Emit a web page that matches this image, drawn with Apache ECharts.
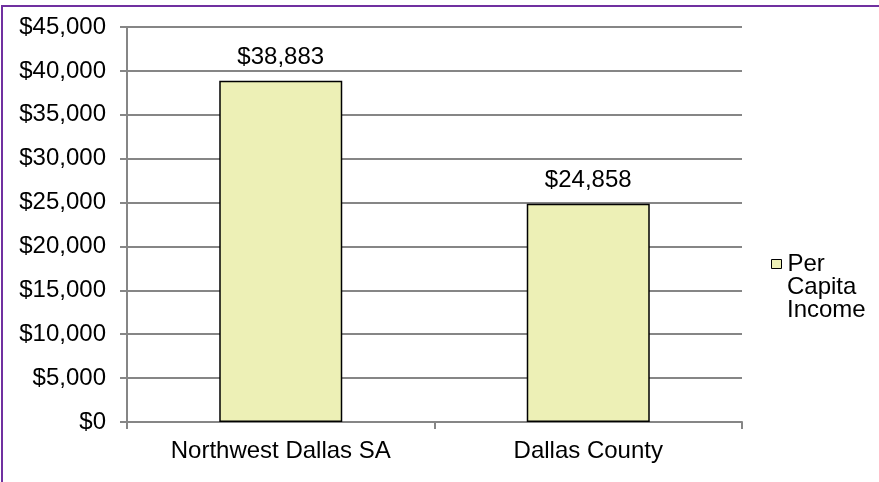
<!DOCTYPE html>
<html>
<head>
<meta charset="utf-8">
<script src="https://cdn.jsdelivr.net/npm/echarts@6/dist/echarts.min.js"></script>
<style>
html,body{margin:0;padding:0;background:#fff;}
#frame{position:absolute;left:1px;top:5px;width:900px;height:500px;border-left:2px solid #7030A0;border-top:2px solid #7030A0;box-sizing:border-box;}
#chart{position:absolute;left:0;top:0;width:879px;height:482px;}
</style>
</head>
<body>
<div id="frame"></div>
<div id="chart"></div>
<script>
const categories = ['Northwest Dallas SA', 'Dallas County'];
const seriesName = 'Per Capita Income';
const legendLines = ['Per', 'Capita', 'Income'];
const values = [38883, 24858];
const yTicks = [0, 5000, 10000, 15000, 20000, 25000, 30000, 35000, 40000, 45000];

const fmt = v => '$' + v.toLocaleString('en-US');
const FONT = 'Liberation Sans, Arial, sans-serif';
const GRAY = '#868686';
const FS = 24;

const chart = echarts.init(document.getElementById('chart'));
chart.setOption({
  animation: false,
  backgroundColor: 'transparent',
  textStyle: { fontFamily: FONT },
  grid: { left: 127, top: 27, width: 615, height: 395, containLabel: false },
  legend: {
    left: 771, top: 252, padding: 0,
    orient: 'vertical',
    itemWidth: 10, itemHeight: 9, itemGap: 0,
    icon: 'rect',
    formatter: () => legendLines[0],
    textStyle: { fontFamily: FONT, fontSize: FS, color: '#000', lineHeight: 23, padding: [0, 0, 0, 1] },
    itemStyle: { borderColor: '#000', borderWidth: 1 }
  },
  graphic: [{
    type: 'text', left: 787, top: 275,
    style: { text: legendLines.slice(1).join('\n'), font: FS + 'px ' + FONT, lineHeight: 23, fill: '#000' }
  }],
  xAxis: {
    type: 'category',
    data: categories,
    axisLine: { lineStyle: { color: GRAY, width: 2 } },
    axisTick: { show: true, length: 7, lineStyle: { color: GRAY, width: 2 } },
    axisLabel: { color: '#000', fontSize: FS, fontFamily: FONT, margin: 17 }
  },
  yAxis: {
    type: 'value',
    min: yTicks[0], max: yTicks[yTicks.length - 1], interval: yTicks[1] - yTicks[0],
    axisLine: { show: true, lineStyle: { color: GRAY, width: 2 } },
    axisTick: { show: true, length: 7, lineStyle: { color: GRAY, width: 2 } },
    splitLine: { lineStyle: { color: GRAY, width: 2 } },
    axisLabel: { color: '#000', fontSize: FS, fontFamily: FONT, margin: 21, formatter: fmt }
  },
  series: [{
    name: seriesName,
    type: 'bar',
    data: values,
    barCategoryGap: '60%',
    itemStyle: { color: '#EDF0B6', borderColor: '#000', borderWidth: 1.5 },
    label: { show: true, position: 'top', distance: 11, color: '#000', fontSize: FS, fontFamily: FONT, formatter: p => fmt(p.value) }
  }]
});
</script>
</body>
</html>
